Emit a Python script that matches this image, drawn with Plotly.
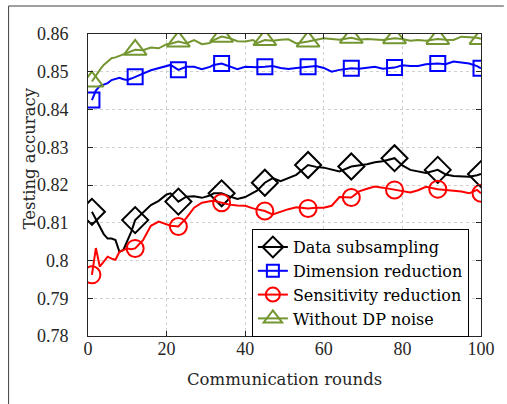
import plotly.graph_objects as go

rounds = [1,2,3,4,5,6,7,8,9,10,11,12,14,16,18,20,21,23,25,27,29,31,32,34,36,38,40,42,43,45,47,49,51,53,56,58,60,62,64,67,69,71,73,75,78,80,82,84,86,89,91,93,95,97,99,100]

data_subsampling = [0.8129,0.8110,0.8090,0.8070,0.8058,0.8058,0.8054,0.8023,0.8028,0.8050,0.8076,0.8107,0.8128,0.8147,0.8158,0.8175,0.8178,0.8156,0.8169,0.8170,0.8166,0.8172,0.8178,0.8178,0.8170,0.8163,0.8168,0.8178,0.8185,0.8206,0.8218,0.8210,0.8218,0.8227,0.8253,0.8248,0.8246,0.8240,0.8236,0.8249,0.8252,0.8255,0.8260,0.8263,0.8271,0.8252,0.8240,0.8235,0.8232,0.8240,0.8228,0.8224,0.8224,0.8222,0.8226,0.8229]

dimension_reduction = [0.8425,0.8450,0.8462,0.8465,0.8470,0.8478,0.8482,0.8484,0.8480,0.8478,0.8482,0.8487,0.8495,0.8504,0.8510,0.8515,0.8518,0.8505,0.8513,0.8513,0.8507,0.8513,0.8518,0.8522,0.8515,0.8507,0.8513,0.8512,0.8512,0.8513,0.8515,0.8510,0.8507,0.8510,0.8513,0.8515,0.8510,0.8500,0.8505,0.8509,0.8508,0.8510,0.8513,0.8508,0.8511,0.8517,0.8515,0.8515,0.8520,0.8522,0.8520,0.8527,0.8525,0.8522,0.8515,0.8509]

sensitivity_reduction = [0.7962,0.8033,0.7984,0.7998,0.8010,0.8005,0.8002,0.8023,0.8028,0.8032,0.8030,0.8032,0.8054,0.8092,0.8103,0.8095,0.8092,0.8090,0.8112,0.8140,0.8153,0.8157,0.8158,0.8153,0.8148,0.8146,0.8145,0.8138,0.8136,0.8131,0.8122,0.8130,0.8136,0.8141,0.8138,0.8140,0.8140,0.8145,0.8168,0.8167,0.8183,0.8190,0.8196,0.8193,0.8187,0.8183,0.8180,0.8186,0.8195,0.8189,0.8187,0.8186,0.8183,0.8178,0.8187,0.8178]

without_dp_noise = [0.8474,0.8490,0.8505,0.8518,0.8526,0.8536,0.8538,0.8542,0.8544,0.8549,0.8552,0.8558,0.8557,0.8564,0.8562,0.8573,0.8574,0.8580,0.8575,0.8584,0.8573,0.8576,0.8584,0.8593,0.8589,0.8581,0.8580,0.8584,0.8576,0.8584,0.8582,0.8585,0.8586,0.8575,0.8580,0.8584,0.8589,0.8587,0.8585,0.8590,0.8585,0.8587,0.8585,0.8584,0.8589,0.8587,0.8582,0.8584,0.8582,0.8587,0.8585,0.8584,0.8593,0.8591,0.8590,0.8587]

marker_rounds = [1,12,23,34,45,56,67,78,89,100]

y_ticks = [0.78,0.79,0.80,0.81,0.82,0.83,0.84,0.85,0.86]
y_tick_labels = ["0.78","0.79","0.8","0.81","0.82","0.83","0.84","0.85","0.86"]
x_ticks = [0,20,40,60,80,100]

series = [
    ("Data subsampling", data_subsampling, "#000000", "diamond-open", 20),
    ("Dimension reduction", dimension_reduction, "#0000ff", "square-open", 15),
    ("Sensitivity reduction", sensitivity_reduction, "#ff0000", "circle-open", 17),
    ("Without DP noise", without_dp_noise, "#739630", "triangle-up-open", 20),
]

FONT = "Times New Roman"
TXTFONT = "DejaVu Serif"
fig = go.Figure()
for name, vals, color, sym, size in series:
    fig.add_trace(go.Scatter(x=rounds, y=vals, mode="lines",
                             line=dict(color=color, width=2), showlegend=False, hoverinfo="skip"))
    mx = [r for r in marker_rounds]
    my = [vals[rounds.index(r)] for r in marker_rounds]
    fig.add_trace(go.Scatter(x=mx, y=my, mode="markers", showlegend=False,
                             marker=dict(symbol=sym, size=size, color=color, line=dict(width=2, color=color))))
for name, vals, color, sym, size in series:
    fig.add_trace(go.Scatter(x=[None], y=[None], mode="lines+markers", name=name,
                             line=dict(color=color, width=2),
                             marker=dict(symbol=sym, size=size - 3, color=color, line=dict(width=2, color=color))))

axis_common = dict(showline=True, linecolor="#262626", linewidth=1, mirror="allticks",
                   ticks="inside", ticklen=5, tickcolor="#262626",
                   showgrid=True, gridcolor="#d0d0d0", griddash="dot", gridwidth=1,
                   zeroline=False, tickfont=dict(family=FONT, size=18, color="#262626"))

fig.update_xaxes(range=[0, 100], tickvals=x_ticks, ticklabelstandoff=-4, **axis_common)
fig.update_yaxes(range=[0.78, 0.86], tickvals=y_ticks, ticktext=y_tick_labels, ticklabelstandoff=15,
                 **axis_common)

fig.update_layout(
    width=507, height=404,
    font=dict(family=FONT, size=18, color="#262626"),
    margin=dict(l=88, r=23, t=34, b=68),
    paper_bgcolor="white", plot_bgcolor="white",
    legend=dict(x=0.417, y=0.354, xanchor="left", yanchor="top",
                bgcolor="white", bordercolor="#000000", borderwidth=1,
                font=dict(family=TXTFONT, size=16, color="#000000"),
                tracegroupgap=0, itemwidth=30),
    annotations=[
        dict(text="Communication rounds", xref="paper", yref="paper", x=0.5, y=(336-379)/302,
             xanchor="center", yanchor="middle", showarrow=False,
             font=dict(family=TXTFONT, size=16.5, color="#262626")),
        dict(text="Testing accuracy", xref="paper", yref="paper", x=(29-88)/396, y=(336-158)/302,
             xanchor="center", yanchor="middle", showarrow=False, textangle=-90,
             font=dict(family=TXTFONT, size=16.5, color="#262626")),
    ],
    shapes=[
        dict(type="line", xref="paper", yref="paper", x0=(8-88)/396, x1=(8-88)/396,
             y0=(336-6)/302, y1=(336-404)/302, line=dict(color="#404040", width=1)),
        dict(type="line", xref="paper", yref="paper", x0=(8-88)/396, x1=(507-88)/396,
             y0=(336-6)/302, y1=(336-6)/302, line=dict(color="#404040", width=1)),
    ],
)

fig.write_html("out.html", config={"displayModeBar": False},
               post_script="document.body.style.margin='0';document.body.style.overflow='hidden';")
